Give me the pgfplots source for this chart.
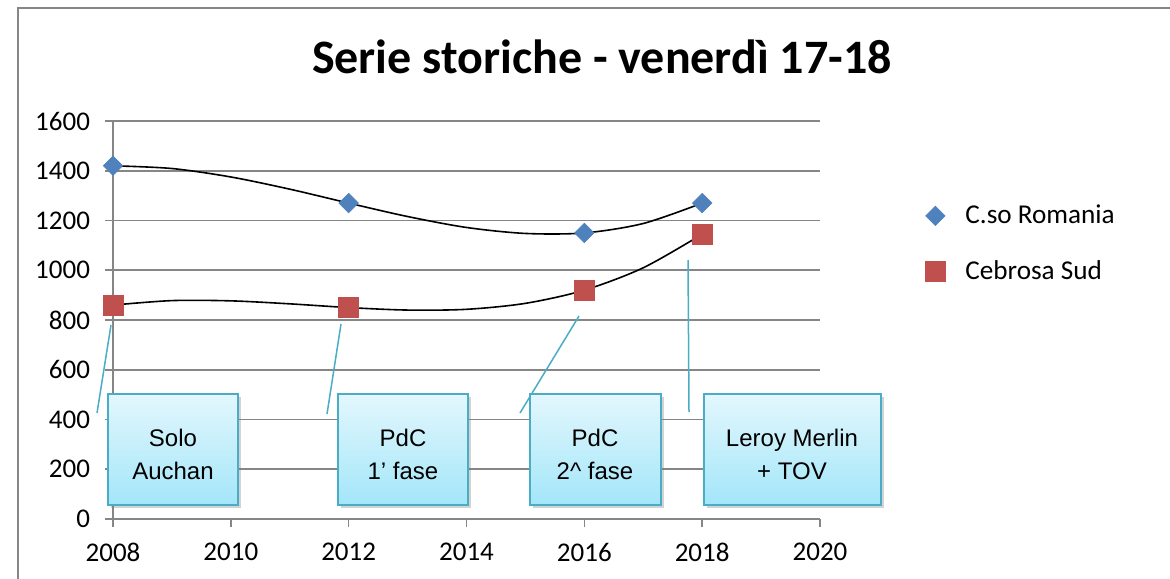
\documentclass[border=0pt]{standalone}
\usepackage{pgfplots}
\pgfplotsset{compat=1.18}
\usepackage{fontspec}
\setmainfont{Carlito}
\newfontfamily\arial{Liberation Sans}
\usetikzlibrary{shadows}
\definecolor{gridgray}{HTML}{868686}
\definecolor{bluem}{HTML}{4F81BD}
\definecolor{redm}{HTML}{C0504D}
\definecolor{callb}{HTML}{4BACC6}
\definecolor{calltop}{HTML}{E3F7FD}
\definecolor{callbot}{HTML}{A3E6F9}
\begin{document}
\begin{tikzpicture}
\path[use as bounding box] (0,0) rectangle (585pt,-289pt);
\begin{scope}
\clip (0,0) rectangle (585pt,-289pt);
\draw[gridgray, line width=0.75pt] (9pt,-4pt) rectangle (600pt,-300pt);
\end{scope}
\node[font=\bfseries\fontsize{24}{29}\selectfont] at (301pt,-28.5pt) {Serie storiche - venerdì 17-18};
\begin{axis}[
  at={(56.5pt,-259.5pt)}, anchor=south west,
  scale only axis, width=353.5pt, height=199pt,
  xmin=2008, xmax=2020, ymin=0, ymax=1600,
  xtick={2008,2010,...,2020}, ytick={0,200,...,1600},
  axis x line=bottom, axis y line=left,
  axis line style={gridgray, line width=0.8pt, -},
  ymajorgrids, grid style={gridgray, line width=0.8pt},
  tick style={gridgray, line width=0.8pt},
  tick align=outside, major tick length=4pt,
  /pgf/number format/1000 sep={},
  /pgf/number format/assume math mode=true,
  ticklabel style={font=\fontsize{13.5}{16}\selectfont},
  yticklabel style={xshift=-4pt},
  xticklabel style={yshift=-4.5pt},
  clip=false,
  legend style={at={(1.14,0.81)}, anchor=north west, draw=none, fill=none,
    font=\fontsize{13.6}{15.5}\selectfont, row sep=13pt},
  legend cell align=left,
]
\addplot[only marks, mark=square*, mark size=3.4pt, mark options={rotate=45, fill=bluem, draw=bluem}]
  coordinates {(2008,1420) (2012,1270) (2016,1150) (2018,1270)};
\addlegendentry{\hspace*{8pt}C.so Romania}
\addplot[only marks, mark=square*, mark size=5pt, mark options={fill=redm, draw=redm}]
  coordinates {(2008,860) (2012,850) (2016,920) (2018,1145)};
\addlegendentry{\hspace*{8pt}Cebrosa Sud}
\addplot[black, line width=0.8pt, smooth, forget plot] coordinates {
  (2008,1420) (2009,1409) (2010,1375) (2011,1326) (2012,1270) (2013,1216)
  (2014,1172) (2015,1148) (2016,1150) (2017,1188) (2018,1270)};
\addplot[black, line width=0.8pt, smooth, forget plot] coordinates {
  (2008,860) (2009,878) (2010,877) (2011,865) (2012,850) (2013,840)
  (2014,843) (2015,867) (2016,920) (2017,1010) (2018,1145)};
\end{axis}
\begin{scope}[x=0.5pt, y=-0.5pt]
\tikzset{callout/.style={draw=callb, line width=0.75pt, top color=calltop, bottom color=callbot,
   drop shadow={shadow xshift=1.5pt, shadow yshift=-1.5pt, opacity=0.35}},
   lead/.style={callb, line width=0.75pt},
   ctext/.style={font=\arial\fontsize{12}{16.5}\selectfont, align=center}}
\draw[lead] (97,413)--(111,325);
\draw[lead] (327,414)--(341,324);
\draw[lead] (520,413)--(579,316);
\draw[lead] (689,412)--(688,260);
\path[callout] (108,394) rectangle (238,505);
\path[callout] (338,394) rectangle (468,505);
\path[callout] (530,394) rectangle (661,505);
\path[callout] (704,394) rectangle (881,505);
\node[ctext] at (173,454) {Solo\\Auchan};
\node[ctext] at (403,454) {PdC\\1’ fase};
\node[ctext] at (595,454) {PdC\\2\textasciicircum{} fase};
\node[ctext] at (792,454) {Leroy Merlin\\+ TOV};
\end{scope}
\end{tikzpicture}
\end{document}
